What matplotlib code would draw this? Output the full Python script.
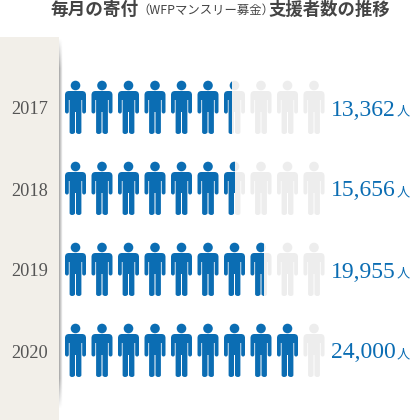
import numpy as np
import matplotlib
matplotlib.use('Agg')
import matplotlib.pyplot as plt
from matplotlib.path import Path
from matplotlib.patches import PathPatch, Circle, Rectangle
from matplotlib.transforms import Affine2D

years = ['2017', '2018', '2019', '2020']
supporters = ['13,362', '15,656', '19,955', '24,000']
# icons filled per row
filled = [6.36, 6.52, 7.62, 9.0]
n_icons = 10

blue = '#0b6db3'
grey = '#ededed'

fig = plt.figure(figsize=(4.11, 4.2), dpi=100)
ax = fig.add_axes([0, 0, 1, 1])
ax.set_xlim(0, 411)
ax.set_ylim(420, 0)
ax.axis('off')

# left panel and its shadow
ax.add_patch(Rectangle((0, 37), 58.5, 383, fc='#f2efe9', ec='none'))
sx = np.linspace(0.75, 0, 5)[None, :]
sy = np.clip(np.minimum((np.arange(370) - 0) / 30, (370 - np.arange(370)) / 30), 0, 1)[:, None]
shadow = np.zeros((370, 5, 4))
shadow[..., :3] = 0.55
shadow[..., 3] = sx * sy
ax.imshow(shadow, extent=(58.5, 62.5, 408, 38), aspect='auto', interpolation='bilinear', zorder=2)
ax.set_xlim(0, 411)
ax.set_ylim(420, 0)

# person body, 21 px wide, y from the shoulders down
M, L, C = Path.MOVETO, Path.LINETO, Path.CURVE3
body = [
    (M, 4, 0), (L, 17, 0), (C, 21, 0), (C, 21, 4),
    (L, 21, 20.5), (C, 21, 22.5), (C, 19, 22.5), (C, 17.2, 22.5), (C, 17.2, 20.5),
    (L, 17.2, 9), (L, 16.4, 9),
    (L, 16.4, 41), (C, 16.4, 43), (C, 14, 43), (C, 11, 43), (C, 11, 41),
    (L, 11, 21), (L, 10, 21),
    (L, 10, 41), (C, 10, 43), (C, 7, 43), (C, 4.6, 43), (C, 4.6, 41),
    (L, 4.6, 9), (L, 3.8, 9),
    (L, 3.8, 20.5), (C, 3.8, 22.5), (C, 2, 22.5), (C, 0, 22.5), (C, 0, 20.5),
    (L, 0, 4), (C, 0, 0), (C, 4, 0),
]
body_path = Path([(p[1], p[2]) for p in body], [p[0] for p in body])


def draw_person(x0, y0, color, clip=None, z=3):
    body_patch = PathPatch(body_path, fc=color, ec='none', zorder=z,
                           transform=Affine2D().translate(x0, y0 + 10) + ax.transData)
    head = Circle((x0 + 10.5, y0 + 4.5), 4.8, fc=color, ec='none', zorder=z)
    ax.add_patch(body_patch)
    ax.add_patch(head)
    if clip is not None:
        rect = Rectangle((x0 - 1, y0 - 1), clip + 1, 56, transform=ax.transData)
        body_patch.set_clip_path(rect)
        head.set_clip_path(rect)


for r, year in enumerate(years):
    top = 81 + 81 * r
    for i in range(n_icons):
        x0 = 65 + 26.5 * i
        amount = filled[r] - i
        if amount >= 1:
            draw_person(x0, top, blue)
        else:
            draw_person(x0, top, grey)
            if amount > 0:
                draw_person(x0, top, blue, clip=21 * amount, z=4)
    ax.text(30, top + 29, year, family='Liberation Serif', fontsize=13.2,
            color='#555555', ha='center', va='center')
    ax.text(331, top + 29, supporters[r], family='Liberation Serif', fontsize=17,
            color=blue, ha='left', va='center')
    ax.text(397, top + 30.5, '人', family='Noto Sans CJK JP', fontsize=9.5,
            color=blue, ha='left', va='center')

# title in three pieces
title_font = {'family': 'Noto Sans CJK JP', 'color': '#444444', 'va': 'center', 'ha': 'left'}
ax.text(50, 9.5, '毎月の寄付', fontsize=12.7, fontweight='bold', **title_font)
ax.text(137, 10.5, '（WFPマンスリー募金）', fontsize=8.9, **title_font)
ax.text(268, 9.5, '支援者数の推移', fontsize=12.5, fontweight='bold', **title_font)

fig.savefig('out.png', dpi=100)
